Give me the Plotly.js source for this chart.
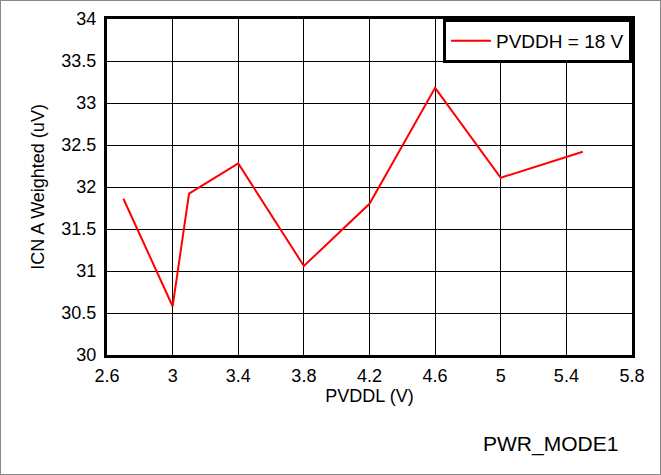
<!DOCTYPE html>
<html><head><meta charset="utf-8">
<script src="https://cdn.plot.ly/plotly-3.0.1.min.js"></script>
<style>html,body{margin:0;padding:0;background:#fff}#chart{width:661px;height:475px;box-sizing:border-box;border:1px solid #888}</style>
</head><body><div id="chart"></div>
<script>
const pvddl = [2.7, 3.0, 3.1, 3.4, 3.8, 4.2, 4.6, 5.0, 5.5];
const icn = [31.86, 30.58, 31.92, 32.28, 31.06, 31.80, 33.18, 32.11, 32.42];
const seriesName = "PVDDH = 18 V";
const xTicks = [2.6, 3, 3.4, 3.8, 4.2, 4.6, 5, 5.4, 5.8];
const yTicks = [30, 30.5, 31, 31.5, 32, 32.5, 33, 33.5, 34];

const fam = "Liberation Sans, Arial, sans-serif";
const tickFont = {family: fam, size: 18, color: "#000"};
const titleFont = {family: fam, size: 18, color: "#000"};
const legFont = {family: fam, size: 19, color: "#000"};
const noteFont = {family: fam, size: 21, color: "#000"};
Plotly.newPlot("chart", [{
  x: pvddl, y: icn, type: "scatter", mode: "lines", name: seriesName,
  line: {color: "#ff0000", width: 2}
}], {
  width: 659, height: 473,
  margin: {l: 106, r: 28, t: 18, b: 119, pad: 0},
  paper_bgcolor: "#fff", plot_bgcolor: "#fff",
  font: tickFont,
  showlegend: true,
  legend: {x: 1, y: 1, xanchor: "right", yanchor: "top", bgcolor: "#fff",
    bordercolor: "#000", borderwidth: 3, font: legFont, itemwidth: 40},
  xaxis: {range: [2.6, 5.8], tickvals: xTicks, ticktext: xTicks.map(String),
    showgrid: true, gridcolor: "#000", gridwidth: 1, zeroline: false,
    showline: true, linecolor: "#000", linewidth: 3, mirror: true,
    ticks: "", tickfont: tickFont, ticklabelstandoff: 2,
    title: {text: "PVDDL (V)", font: titleFont, standoff: 0}},
  yaxis: {range: [30, 34], tickvals: yTicks, ticktext: yTicks.map(String),
    showgrid: true, gridcolor: "#000", gridwidth: 1, zeroline: false,
    showline: true, linecolor: "#000", linewidth: 3, mirror: true,
    ticks: "", tickfont: tickFont, ticklabelstandoff: 4,
    title: {text: "ICN A Weighted (uV)", font: titleFont, standoff: 13}},
  annotations: [{text: "PWR_MODE1", xref: "paper", yref: "paper", x: 0.977, y: -0.265,
    xanchor: "right", yanchor: "middle", showarrow: false, font: noteFont}]
}, {staticPlot: true});
</script></body></html>
